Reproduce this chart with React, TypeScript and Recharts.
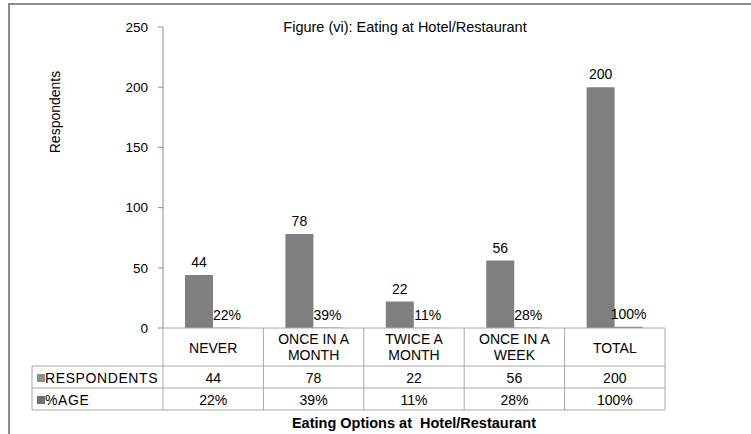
import React from 'react';
import { BarChart, Bar, XAxis, YAxis, LabelList } from 'recharts';

const categories = ["NEVER", "ONCE IN A\nMONTH", "TWICE A\nMONTH", "ONCE IN A\nWEEK", "TOTAL"];
const respondents = [44, 78, 22, 56, 200];
const percentage = [0.22, 0.39, 0.11, 0.28, 1.0];
const yTicks = [0, 50, 100, 150, 200, 250];
const seriesNames = ["RESPONDENTS", "%AGE"];
const chartTitle = "Figure (vi): Eating at Hotel/Restaurant";
const xTitle = "Eating Options at  Hotel/Restaurant";
const yTitle = "Respondents";

const data = categories.map((c, i) => ({ category: c, respondents: respondents[i], pct: percentage[i] }));

const W = 751;
const H = 434;
const PLOT_LEFT = 163;
const PLOT_RIGHT = 665;
const PLOT_TOP = 27;
const PLOT_BOTTOM = 328;
const Y_AXIS_W = 60;
const X_AXIS_H = 100;
const BAND = (PLOT_RIGHT - PLOT_LEFT) / categories.length;
const HEADER_H = 38;
const ROW_H = 22;
const TABLE_LEFT = 32;
const FONT = '"Liberation Sans", Arial, Helvetica, sans-serif';
const LINE = '#a8a8a8';
const BAR = '#7f7f7f';
const LEG1 = '#8c8c8c';
const LEG2 = '#6f6f6f';

const fmtPct = (v: any) => `${Math.round(Number(v) * 100)}%`;

const TableTick = (props: any) => {
  const { x, y, payload } = props;
  const i = categories.indexOf(payload.value);
  const lines = String(payload.value).split('\n');
  const left = x - BAND / 2;
  const right = x + BAND / 2;
  const bottom = y + HEADER_H + 2 * ROW_H;
  const r1 = y + HEADER_H + ROW_H / 2 + 1;
  const r2 = y + HEADER_H + ROW_H + ROW_H / 2 + 1;
  const tableRight = PLOT_LEFT + BAND * categories.length;
  return (
    <g fontFamily={FONT} fontSize={14} fill="#000">
      <line x1={right} x2={right} y1={y} y2={bottom} stroke={LINE} strokeWidth={1} />
      {i === 0 && (
        <g>
          <line x1={left} x2={left} y1={y} y2={bottom} stroke={LINE} strokeWidth={1} />
          <line x1={TABLE_LEFT} x2={TABLE_LEFT} y1={y + HEADER_H} y2={bottom} stroke={LINE} strokeWidth={1} />
          {[HEADER_H, HEADER_H + ROW_H, HEADER_H + 2 * ROW_H].map((dy) => (
            <line key={dy} x1={TABLE_LEFT} x2={tableRight} y1={y + dy} y2={y + dy} stroke={LINE} strokeWidth={1} />
          ))}
          <rect x={TABLE_LEFT + 5} y={r1 - 4} width={8} height={8} fill={LEG1} />
          <text x={TABLE_LEFT + 13} y={r1} dominantBaseline="central" letterSpacing={0.6} fill="#000">{seriesNames[0]}</text>
          <rect x={TABLE_LEFT + 5} y={r2 - 4} width={8} height={8} fill={LEG2} />
          <text x={TABLE_LEFT + 13} y={r2} dominantBaseline="central" letterSpacing={0.6} fill="#000">{seriesNames[1]}</text>
        </g>
      )}
      {lines.length === 1 ? (
        <text x={x} y={y + 20} textAnchor="middle" dominantBaseline="central" fill="#000">{lines[0]}</text>
      ) : (
        lines.map((ln, k) => (
          <text key={k} x={x} y={y + 11 + k * 16} textAnchor="middle" dominantBaseline="central" fill="#000">{ln}</text>
        ))
      )}
      <text x={x} y={r1} textAnchor="middle" dominantBaseline="central" fill="#000">{respondents[i]}</text>
      <text x={x} y={r2} textAnchor="middle" dominantBaseline="central" fill="#000">{fmtPct(percentage[i])}</text>
    </g>
  );
};

const YTitle = () => {
  const cx = 55;
  const cy = 112;
  return (
    <text x={cx} y={cy} transform={`rotate(-90 ${cx} ${cy})`} textAnchor="middle" dominantBaseline="central" fontFamily={FONT} fontSize={14} fill="#000">
      {yTitle}
    </text>
  );
};

export default function App() {
  return (
    <div style={{ position: 'absolute', left: 0, top: 0, width: W, height: H, background: '#fff', fontFamily: FONT }}>
      <div style={{ position: 'absolute', left: 8, top: 3, right: 0, bottom: 0, borderLeft: '2px solid #8c8c8c', borderTop: '2px solid #8c8c8c' }} />
      <BarChart
        width={W}
        height={H}
        data={data}
        margin={{ top: PLOT_TOP, right: W - PLOT_RIGHT, bottom: H - PLOT_BOTTOM - X_AXIS_H, left: PLOT_LEFT - Y_AXIS_W }}
        barCategoryGap={22}
        barGap={0}
      >
        <XAxis
          dataKey="category"
          height={X_AXIS_H}
          interval={0}
          tickLine={false}
          tickSize={0}
          tickMargin={0}
          axisLine={{ stroke: LINE }}
          tick={<TableTick />}
        />
        <YAxis
          width={Y_AXIS_W}
          domain={[0, 250]}
          ticks={yTicks}
          interval={0}
          tickSize={5}
          tickMargin={10}
          axisLine={{ stroke: '#8c8c8c' }}
          tickLine={{ stroke: '#8c8c8c' }}
          tick={{ fontSize: 13.5, fill: '#000', fontFamily: FONT }}
          label={{ content: <YTitle /> }}
        />
        <Bar dataKey="respondents" fill={BAR} isAnimationActive={false}>
          <LabelList dataKey="respondents" position="top" offset={8} fontSize={14} fill="#000" fontFamily={FONT} />
        </Bar>
        <Bar dataKey="pct" fill={BAR} isAnimationActive={false}>
          <LabelList dataKey="pct" position="top" offset={8} fontSize={14} fill="#000" fontFamily={FONT} formatter={fmtPct} />
        </Bar>
      </BarChart>
      <div style={{ position: 'absolute', left: 205, width: 400, top: 18, lineHeight: '18px', textAlign: 'center', fontSize: 14.5, color: '#000', whiteSpace: 'pre' }}>
        {chartTitle}
      </div>
      <div style={{ position: 'absolute', left: 214, width: 400, top: 414, lineHeight: '18px', textAlign: 'center', fontSize: 14.5, fontWeight: 'bold', color: '#000', whiteSpace: 'pre' }}>
        {xTitle}
      </div>
    </div>
  );
}
